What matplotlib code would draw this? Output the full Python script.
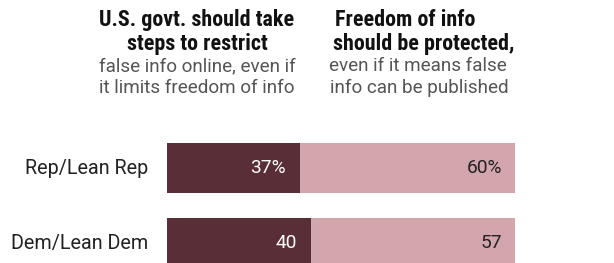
import matplotlib
matplotlib.use("Agg")
import matplotlib.pyplot as plt

groups = ["Rep/Lean Rep", "Dem/Lean Dem"]
restrict = [37, 40]
protect = [60, 57]
restrict_labels = ["37%", "40"]
protect_labels = ["60%", "57"]

dark = "#592e37"
light = "#d3a6ad"

W, H = 614, 263
fig = plt.figure(figsize=(W / 100, H / 100), dpi=100)

# axes: bars start at x=167px, 97 units over 348px; top of first bar at y=143px
left, right = 167, 515
ax = fig.add_axes([left / W, 0, (right - left) / W, 120 / H])
ax.set_xlim(0, 97)
ax.set_ylim(1.6 - 1 / 3, -1 / 3)
ax.axis("off")

ypos = list(range(len(groups)))
ax.barh(ypos, restrict, height=2 / 3, color=dark)
ax.barh(ypos, protect, left=restrict, height=2 / 3, color=light)

reg = ["Roboto", "DejaVu Sans"]
bold = ["Roboto Condensed", "Archivo Narrow", "DejaVu Sans"]

for i, g in enumerate(groups):
    ax.text(-5.2, i, g, ha="right", va="center", fontsize=14.2,
            family=reg, color="#222222")
    ax.text(restrict[i] - 3.9, i, restrict_labels[i], ha="right", va="center",
            fontsize=13.8, family=reg, color="white")
    ax.text(restrict[i] + protect[i] - 3.6, i, protect_labels[i], ha="right",
            va="center", fontsize=13.8, family=reg, color="#222222")


def px(x, y):
    return x / W, 1 - y / H


heads = [
    (197, 20, "U.S. govt. should take", True),
    (197, 44, "steps to restrict", True),
    (197, 66, "false info online, even if", False),
    (197, 88, "it limits freedom of info", False),
    (405, 20, "Freedom of info", True),
    (424, 44, "should be protected,", True),
    (418, 66, "even if it means false", False),
    (419, 88, "info can be published", False),
]
for x, y, s, b in heads:
    if b:
        fig.text(*px(x, y), s, ha="center", va="center", fontsize=15.8,
                 fontweight="bold", family=bold, color="#111111")
    else:
        fig.text(*px(x, y), s, ha="center", va="center", fontsize=13.6,
                 family=reg, color="#555555")

fig.savefig("out.png", dpi=100, facecolor="white")
